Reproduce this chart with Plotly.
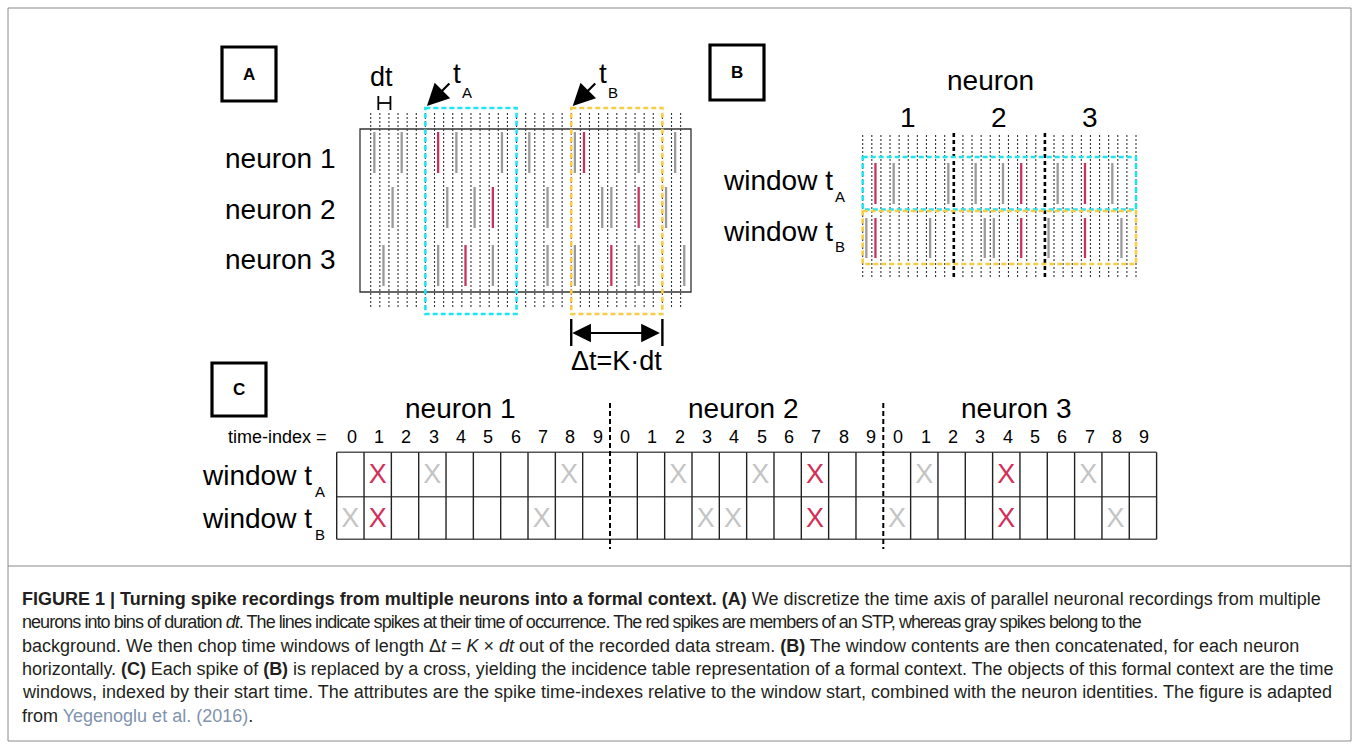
import plotly.graph_objects as go

# ---------------- data ----------------
neuron_labels = ["neuron 1", "neuron 2", "neuron 3"]
window_labels = ["window t", "window t"]
window_subs = ["A", "B"]
time_index_labels = ["0", "1", "2", "3", "4", "5", "6", "7", "8", "9"]

# Panel A: spike time bins (in units of dt) for each neuron
a_gray_bins = [[0, 3, 9, 14, 17, 22, 29, 33],
               [2, 8, 11, 19, 25, 26, 32],
               [1, 7, 13, 19, 22, 29, 34]]
a_red_bins = [[7, 23], [13, 29], [10, 26]]
a_n_lines = 35            # bin boundaries drawn in panel A
window_starts = [6, 22]   # start bin of window tA and tB
K = 10                    # window length in bins

# Panel B: spike cells (0..9) per window, per neuron
b_gray = [[[3, 9], [2, 5], [1, 7]],
          [[0, 7], [3, 4], [0, 8]]]
b_red = [[[1], [7], [4]],
         [[1], [7], [4]]]

# Panel C: crosses (time-index) per window, per neuron
c_gray = [[[3, 8], [2, 5], [1, 7]],
          [[0, 7], [3, 4], [0, 8]]]
c_red = [[[1], [7], [4]],
         [[1], [7], [4]]]

caption_lines = [
    "<b>FIGURE 1 | Turning spike recordings from multiple neurons into a formal context. (A)</b> We discretize the time axis of parallel neuronal recordings from multiple",
    "neurons into bins of duration <i>dt</i>. The lines indicate spikes at their time of occurrence. The red spikes are members of an STP, whereas gray spikes belong to the",
    "background. We then chop time windows of length \u0394<i>t</i> = <i>K</i> \u00d7 <i>dt</i> out of the recorded data stream. <b>(B)</b> The window contents are then concatenated, for each neuron",
    "horizontally. <b>(C)</b> Each spike of <b>(B)</b> is replaced by a cross, yielding the incidence table representation of a formal context. The objects of this formal context are the time",
    "windows, indexed by their start time. The attributes are the spike time-indexes relative to the window start, combined with the neuron identities. The figure is adapted",
    "from <span style='color:#8193ad'>Yegenoglu et al. (2016)</span>.",
]
# per-line letter spacing (px) to mimic the original line lengths
caption_spacing = [0, -0.95, 0, -0.05, 0, 0]

# ---------------- style / layout ----------------
W, H = 1359, 744
FONT = "Liberation Sans, Arial, sans-serif"
CAP_FONT = "Liberation Sans, Arial, sans-serif"
GRAY = "#9a9a9a"
RED = "#c8325c"
XGRAY = "#c4c4c4"
XRED = "#d2305a"
CYAN = "#22e4f0"
YELLOW = "#f6cd48"
DOT = dict(color="#333333", width=1.1, dash="2px,2px")

fig = go.Figure()
shapes = []
ann = []

def line(x0, y0, x1, y1, **kw):
    shapes.append(dict(type="line", xref="x", yref="y", x0=x0, y0=y0, x1=x1, y1=y1, line=kw))

def rect(x0, y0, x1, y1, **kw):
    shapes.append(dict(type="rect", xref="x", yref="y", x0=x0, y0=y0, x1=x1, y1=y1,
                       line=kw, fillcolor="rgba(0,0,0,0)"))

def text(x, y, s, size, xanchor="center", color="black", family=FONT, yanchor="middle"):
    ann.append(dict(x=x, y=y, xref="x", yref="y", text=s, showarrow=False,
                    xanchor=xanchor, yanchor=yanchor,
                    font=dict(family=family, size=size, color=color)))

def spikes(xs, y0, y1, color, width):
    px, py = [], []
    for x in xs:
        px += [x, x, None]
        py += [y0, y1, None]
    fig.add_trace(go.Scatter(x=px, y=py, mode="lines", hoverinfo="skip",
                             line=dict(color=color, width=width), showlegend=False))

# outer frame
rect(8, 8, 1351, 741, color="#8a8a8a", width=1)
line(8, 566, 1351, 566, color="#8a8a8a", width=1)

# panel letter boxes
for (x0, y0, x1, y1), lab in zip([(222, 47, 276, 101), (710, 45, 764, 100), (212, 363, 266, 416)],
                                 ["A", "B", "C"]):
    rect(x0, y0, x1, y1, color="black", width=3.2)
    text((x0 + x1) / 2, (y0 + y1) / 2, "<b>" + lab + "</b>", 17)

# ---------------- Panel A ----------------
AX0, ADT = 370.7, 9.115
A_TOP, A_BOT = 113, 308
def ax_of(b):
    return AX0 + b * ADT

rect(360, 129, 691, 292, color="#333333", width=1.3)
for k in range(a_n_lines):
    line(ax_of(k), A_TOP, ax_of(k), A_BOT, **DOT)
a_row_top = [132, 187, 245]
for i in range(3):
    spikes([ax_of(b + 0.4) for b in a_gray_bins[i]], a_row_top[i], a_row_top[i] + 41, GRAY, 2.3)
    spikes([ax_of(b + 0.4) for b in a_red_bins[i]], a_row_top[i], a_row_top[i] + 41, RED, 2.3)
    text(223, [158, 209, 259][i], neuron_labels[i], 28, xanchor="left")

# windows
for ws, col in zip(window_starts, [CYAN, YELLOW]):
    rect(ax_of(ws), 108, ax_of(ws + K), 314, color=col, width=2.6, dash="5px,3px")

# arrows for t_A, t_B
for ws, sub in zip(window_starts, window_subs):
    tipx = ax_of(ws) + 1.5
    ann.append(dict(x=tipx, y=106, ax=tipx + 24, ay=82, xref="x", yref="y",
                    axref="x", ayref="y", text="", showarrow=True, arrowhead=2,
                    arrowsize=2.0, arrowwidth=2.2, arrowcolor="black"))
    text(tipx + 30, 73, "t", 28)
    text(tipx + 40, 92, sub, 15)

# dt marker
text(ax_of(1.2), 77, "dt", 27)
line(ax_of(1) - 1.5, 96, ax_of(1) - 1.5, 110, color="black", width=1.8)
line(ax_of(2) + 1.5, 96, ax_of(2) + 1.5, 110, color="black", width=1.8)
line(ax_of(1) - 1.5, 103, ax_of(2) + 1.5, 103, color="black", width=1.8)

# delta t arrow
dx0, dx1 = ax_of(window_starts[1]), ax_of(window_starts[1] + K)
line(dx0, 319, dx0, 346, color="black", width=2.4)
line(dx1, 319, dx1, 346, color="black", width=2.4)
ann.append(dict(x=dx0 + 1, y=333, ax=dx1 - 1, ay=333, xref="x", yref="y", axref="x", ayref="y",
                text="", showarrow=True, arrowhead=2, arrowside="end+start",
                arrowsize=1.7, arrowwidth=2.2, arrowcolor="black"))
text((dx0 + dx1) / 2, 361, "\u0394t=K\u00b7dt", 27)

# ---------------- Panel B ----------------
BX0, BDT = 862.7, 9.11
B_TOP, B_BOT = 135, 278
def bx_of(c):
    return BX0 + c * BDT

for k in range(3 * K + 1):
    if k % K == 0 and 0 < k < 3 * K:
        line(bx_of(k), 133, bx_of(k), B_BOT, color="black", width=2.6, dash="4px,3px")
    else:
        line(bx_of(k), B_TOP, bx_of(k), B_BOT, **DOT)
b_rows = [(163, 204), (218, 258)]
b_boxes = [(157, 209.5), (211, 264)]
for w in range(2):
    rect(bx_of(0), b_boxes[w][0], bx_of(3 * K), b_boxes[w][1],
         color=[CYAN, YELLOW][w], width=2.6, dash="5px,3px")
    for n in range(3):
        spikes([bx_of(n * K + c + 0.4) for c in b_gray[w][n]], b_rows[w][0], b_rows[w][1], GRAY, 2.3)
        spikes([bx_of(n * K + c + 0.4) for c in b_red[w][n]], b_rows[w][0], b_rows[w][1], RED, 2.3)
    text(835, [180, 231][w], window_labels[w], 28, xanchor="right")
    text(840, [196, 246][w], window_subs[w], 15)
text(990, 80, "neuron", 28)
for n in range(3):
    text(bx_of(n * K + K / 2), 117, str(n + 1), 28)

# ---------------- Panel C ----------------
CX0, CW = 336.7, 27.33
C_ROWS = [452.3, 496.7, 539.3]
def cx_of(c):
    return CX0 + c * CW

for yv in C_ROWS:
    line(cx_of(0), yv, cx_of(3 * K), yv, color="#555555", width=1.4)
for k in range(3 * K + 1):
    if k % K == 0 and 0 < k < 3 * K:
        line(cx_of(k), 403, cx_of(k), 549, color="black", width=2, dash="5px,3px")
    else:
        line(cx_of(k), C_ROWS[0], cx_of(k), C_ROWS[-1], color="#222222", width=1.4)
for n in range(3):
    for c, lab in enumerate(time_index_labels):
        text(cx_of(n * K + c + 0.55), 437, lab, 18)
    text([460, 743, 1016][n], 408, neuron_labels[n], 28)
text(329, 437, "time-index =", 18, xanchor="right")

xg, yg, xr, yr = [], [], [], []
for w in range(2):
    yc = (C_ROWS[w] + C_ROWS[w + 1]) / 2 + 2
    for n in range(3):
        for c in c_gray[w][n]:
            xg.append(cx_of(n * K + c + 0.5)); yg.append(yc)
        for c in c_red[w][n]:
            xr.append(cx_of(n * K + c + 0.5)); yr.append(yc)
    text(314, [475, 518][w], window_labels[w], 28, xanchor="right")
    text(320, [491, 534][w], window_subs[w], 15)
fig.add_trace(go.Scatter(x=xg, y=yg, mode="text", text=["X"] * len(xg), hoverinfo="skip",
                         textfont=dict(family=FONT, size=27, color=XGRAY), showlegend=False))
fig.add_trace(go.Scatter(x=xr, y=yr, mode="text", text=["X"] * len(xr), hoverinfo="skip",
                         textfont=dict(family=FONT, size=27, color=XRED), showlegend=False))

# ---------------- caption ----------------
for i, (s, sp) in enumerate(zip(caption_lines, caption_spacing)):
    if sp:
        s = "<span style='letter-spacing:%spx'>%s</span>" % (sp, s)
    text(20, 599 + 23.3 * i, s, 18, xanchor="left", color="#231f20", family=CAP_FONT)

fig.update_layout(
    width=W, height=H, margin=dict(l=0, r=0, t=0, b=0),
    paper_bgcolor="white", plot_bgcolor="white",
    xaxis=dict(range=[0, W], visible=False, fixedrange=True),
    yaxis=dict(range=[H, 0], visible=False, fixedrange=True),
    shapes=shapes, annotations=ann, showlegend=False,
)
fig.write_html("out.html")
